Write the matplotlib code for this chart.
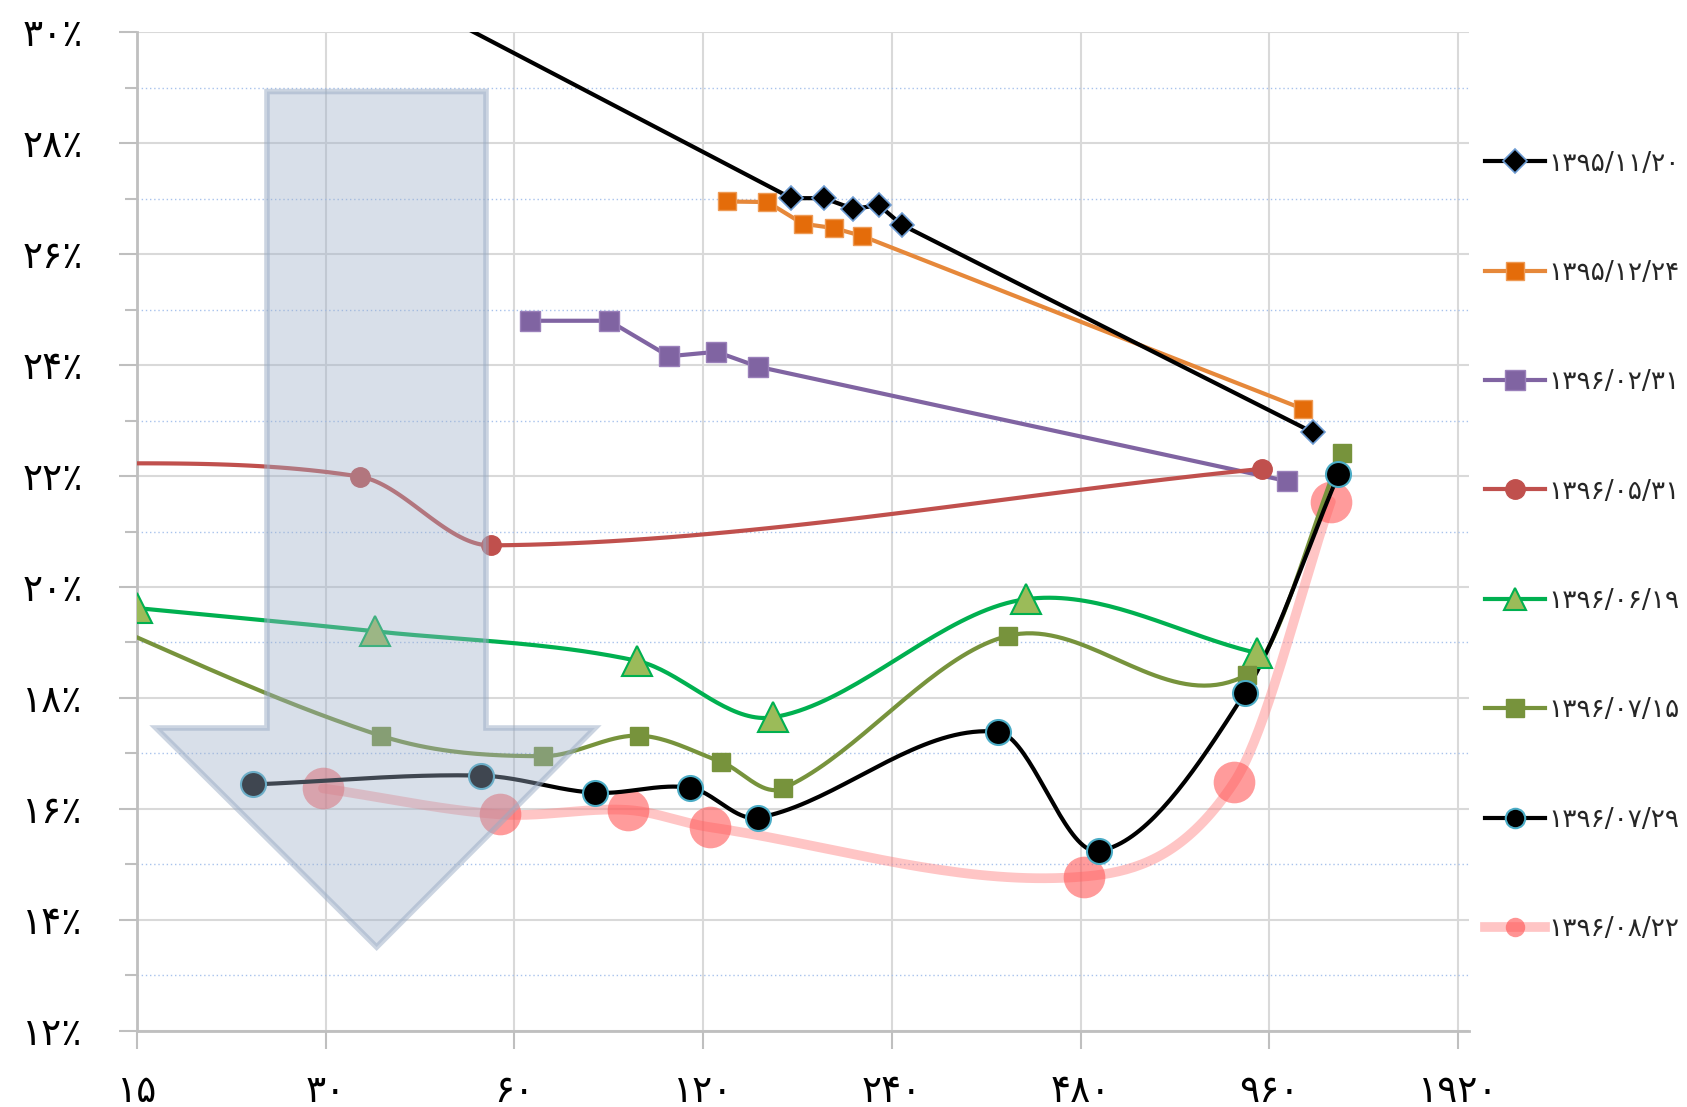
import numpy as np
import matplotlib.pyplot as plt
from matplotlib.patches import Polygon

plt.rcParams['font.family'] = ['DejaVu Sans', 'Noto Sans']

# days to maturity / yield (%) for each date
d_951120 = [30, 166, 187, 208, 229, 249, 1126]
y_951120 = [31.4, 27.01, 27.01, 26.82, 26.88, 26.53, 22.79]

d_951224 = [131, 152, 173, 194, 215, 1087]
y_951224 = [26.95, 26.94, 26.55, 26.47, 26.33, 23.21]

d_960231 = [63.6, 84.9, 105.8, 126, 147, 1024]
y_960231 = [24.80, 24.80, 24.16, 24.24, 23.97, 21.91]

d_960531 = [8, 34, 55, 935]
y_960531 = [22.25, 21.99, 20.75, 22.13]

d_960619 = [15, 36, 94, 155, 393, 917]
y_960619 = [19.62, 19.20, 18.67, 17.65, 19.78, 18.81]

d_960715 = [10, 36.7, 66.7, 94.8, 128, 161, 368, 885, 1253]
y_960715 = [19.95, 17.32, 16.95, 17.32, 16.85, 16.37, 19.12, 18.42, 22.42]

d_960729 = [23, 53, 80.6, 114.5, 147, 354, 513, 878, 1238]
y_960729 = [16.44, 16.60, 16.29, 16.38, 15.84, 17.39, 15.24, 18.09, 22.03]

d_960822 = [29.7, 57, 91, 123, 486, 844, 1204]
y_960822 = [16.37, 15.90, 15.98, 15.67, 14.78, 16.48, 21.54]

labels = ['1395/11/20', '1395/12/24', '1396/02/31', '1396/05/31',
          '1396/06/19', '1396/07/15', '1396/07/29', '1396/08/22']
x_ticks = [15, 30, 60, 120, 240, 480, 960, 1920]
y_ticks = list(range(12, 31, 2))

fa = str.maketrans('0123456789', '۰۱۲۳۴۵۶۷۸۹')


def smooth(xs, ys, n=40):
    # smoothed line as y(log2 x), hermite with neighbour slopes
    px = np.log2(np.asarray(xs, float))
    py = np.asarray(ys, float)
    k = len(px)
    m = np.zeros(k)
    m[0] = (py[1] - py[0]) / (px[1] - px[0])
    m[-1] = (py[-1] - py[-2]) / (px[-1] - px[-2])
    for i in range(1, k - 1):
        m[i] = (py[i + 1] - py[i - 1]) / (px[i + 1] - px[i - 1])
    ox, oy = [px[0]], [py[0]]
    t = np.linspace(0, 1, n)[1:]
    for i in range(k - 1):
        h = px[i + 1] - px[i]
        h00 = 2 * t**3 - 3 * t**2 + 1
        h10 = t**3 - 2 * t**2 + t
        h01 = -2 * t**3 + 3 * t**2
        h11 = t**3 - t**2
        ox.extend(px[i] + h * t)
        oy.extend(h00 * py[i] + h10 * h * m[i] + h01 * py[i + 1] + h11 * h * m[i + 1])
    return 2 ** np.array(ox), np.array(oy)


fig = plt.figure(figsize=(16.87, 11.07), dpi=100)
ax = fig.add_axes([0.0812, 0.0689, 0.7896, 0.9019])

lines = []
l, = ax.plot(d_951120, y_951120, color='black', lw=3, marker='D', ms=12,
             mfc='black', mec='#6C9BD2', mew=1.2, zorder=5)
lines.append(l)
l, = ax.plot(d_951224, y_951224, color='#E6883A', lw=3, marker='s', ms=13,
             mfc='#E46C0A', mec='#EE9A55', mew=1, zorder=4)
lines.append(l)
l, = ax.plot(d_960231, y_960231, color='#8064A2', lw=3, marker='s', ms=14,
             mfc='#8064A2', mec='#9A80BA', mew=1, zorder=4)
lines.append(l)

smooth_specs = [
    (d_960531, y_960531, dict(color='#C0504D', lw=3, ms=14, marker='o', mfc='#C0504D', mec='#C0504D')),
    (d_960619, y_960619, dict(color='#00B050', lw=3, ms=21, marker='^', mfc='#9BBB59', mec='#00B050', mew=1.5)),
    (d_960715, y_960715, dict(color='#77933C', lw=3, ms=13, marker='s', mfc='#77933C', mec='#77933C')),
    (d_960729, y_960729, dict(color='black', lw=3, ms=18, marker='o', mfc='black', mec='#4BACC6', mew=1.5)),
]
for xs, ys, st in smooth_specs:
    sx, sy = smooth(xs, ys)
    ax.plot(sx, sy, color=st['color'], lw=st['lw'], zorder=4, solid_capstyle='round')
    ax.plot(xs, ys, ls='none', marker=st['marker'], ms=st['ms'], mfc=st['mfc'],
            mec=st['mec'], mew=st.get('mew', 1), zorder=5)
    l, = ax.plot([], [], color=st['color'], lw=st['lw'], marker=st['marker'], ms=st['ms'],
                 mfc=st['mfc'], mec=st['mec'], mew=st.get('mew', 1))
    lines.append(l)

sx, sy = smooth(d_960822, y_960822)
ax.plot(sx, sy, color=(1, 0.5, 0.5, 0.45), lw=7, zorder=3, solid_capstyle='round')
ax.plot(d_960822, y_960822, ls='none', marker='o', ms=30, mfc=(1, 0.35, 0.35, 0.6),
        mec='none', zorder=3)
l, = ax.plot([], [], color=(1, 0.5, 0.5, 0.45), lw=7, marker='o', ms=16,
             mfc=(1, 0.35, 0.35, 0.65), mec='none')
lines.append(l)

ax.set_xscale('log', base=2)
ax.set_xlim(15, 2000)
ax.set_ylim(12, 30)
ax.set_xticks(x_ticks)
ax.set_xticklabels([str(v).translate(fa) for v in x_ticks])
ax.xaxis.set_minor_locator(plt.NullLocator())
ax.set_yticks(y_ticks)
ax.set_yticklabels([(str(v) + '٪').translate(fa) for v in y_ticks])
ax.set_yticks(list(range(13, 30, 2)), minor=True)

ax.grid(True, which='major', color='#D9D9D9', lw=1.5, zorder=0)
ax.grid(True, which='minor', axis='y', color='#A8C2EC', lw=1, ls=(0, (1, 2)), zorder=0)
ax.set_axisbelow(True)
for s in ['top', 'right']:
    ax.spines[s].set_visible(False)
for s in ['left', 'bottom']:
    ax.spines[s].set_color('#BFBFBF')
    ax.spines[s].set_linewidth(2)
ax.tick_params(axis='both', which='major', length=13, width=1.5, color='#BFBFBF',
               labelsize=27, labelcolor='black')
ax.tick_params(axis='y', which='major', pad=26)
ax.tick_params(axis='x', which='major', pad=18)
ax.tick_params(axis='y', which='minor', length=9, width=1.5, color='#BFBFBF')

# big downward arrow
arrow = Polygon([(0.0976, 0.9407), (0.262, 0.9407), (0.262, 0.3032), (0.3438, 0.3032),
                 (0.1799, 0.0838), (0.0143, 0.3032), (0.0976, 0.3032)],
                closed=True, transform=ax.transAxes, facecolor=(0.62, 0.69, 0.79, 0.4),
                edgecolor=(0.6, 0.67, 0.77, 0.5), lw=4, zorder=8)
ax.add_patch(arrow)

leg = fig.legend(lines, [s.translate(fa) for s in labels], loc='upper left',
                 bbox_to_anchor=(0.880, 0.864), frameon=False, fontsize=19,
                 handlelength=2.3, handletextpad=0.1, labelspacing=3.16,
                 borderpad=0, borderaxespad=0)
for t in leg.get_texts():
    t.set_color('#262626')
for h in leg.legend_handles:
    if h.get_markersize() > 14:
        h.set_markersize(14 if h.get_marker() == 'o' else 16)

fig.savefig('out.png', dpi=100)
